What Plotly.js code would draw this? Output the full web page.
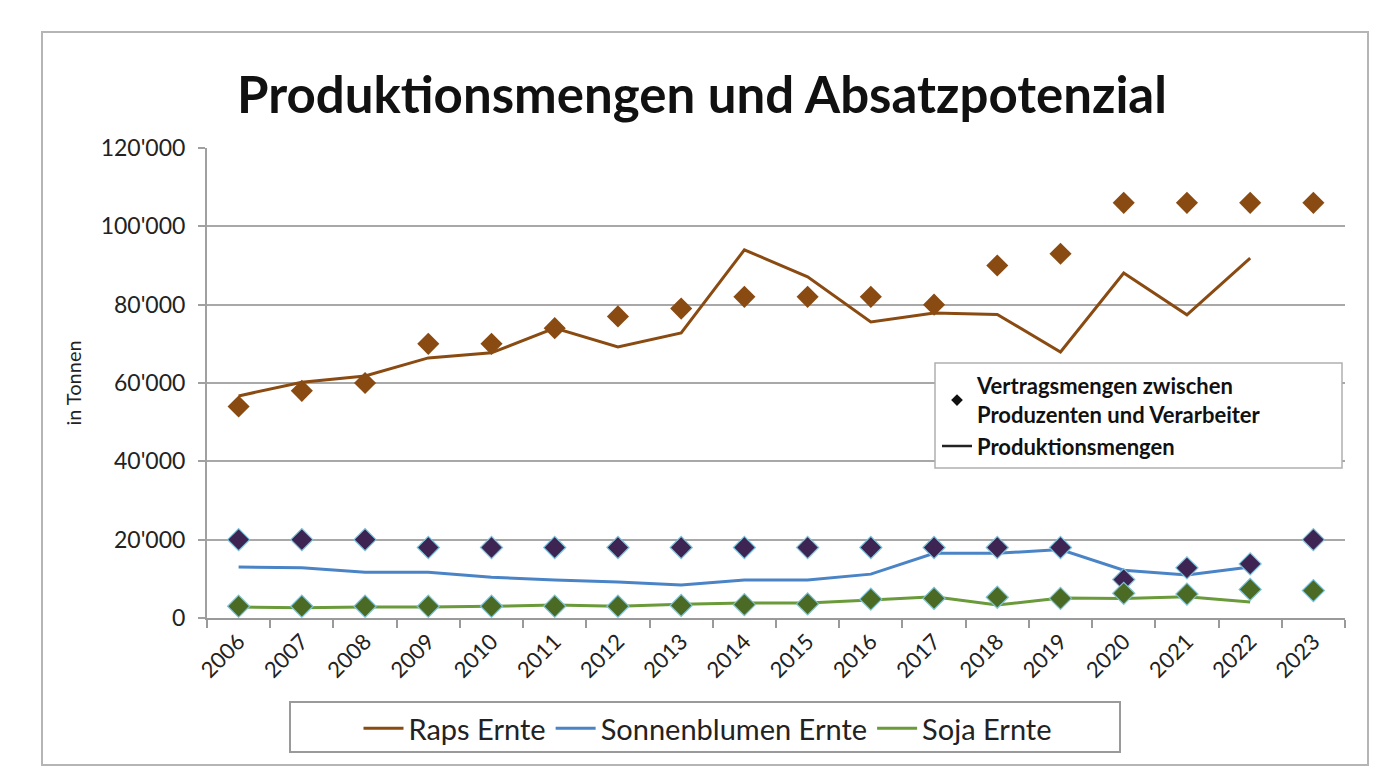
<!DOCTYPE html>
<html>
<head>
<meta charset="utf-8">
<script src="https://cdn.plot.ly/plotly-3.0.1.min.js"></script>
<style>
  html, body { margin: 0; padding: 0; background: #ffffff; }
  #chart { width: 1400px; height: 778px; }
</style>
</head>
<body>
<div id="chart"></div>
<script>
// Categories
const years = ['2006','2007','2008','2009','2010','2011','2012','2013','2014','2015','2016','2017','2018','2019','2020','2021','2022','2023'];

// Production (lines)
const rapsErnte = [56700, 60200, 61800, 66400, 67700, 74000, 69200, 72800, 94000, 87100, 75600, 77900, 77500, 67900, 88100, 77400, 91900, null];
const sonnenErnte = [13000, 12800, 11700, 11700, 10400, 9700, 9200, 8400, 9700, 9700, 11200, 16500, 16500, 17500, 12200, 11000, 13000, null];
const sojaErnte = [2800, 2600, 2800, 2800, 3000, 3300, 3000, 3500, 3800, 3800, 4600, 5400, 3300, 5100, 5000, 5400, 4100, null];

// Contract quantities (diamonds)
const rapsVertrag = [54000, 58000, 60000, 70000, 70000, 74000, 77000, 79000, 82000, 82000, 82000, 80000, 90000, 93000, 106000, 106000, 106000, 106000];
const sonnenVertrag = [20000, 20000, 20000, 18000, 18000, 18000, 18000, 18000, 18000, 18000, 18000, 18000, 18000, 18000, 9800, 12800, 13800, 20000];
const sojaVertrag = [3000, 3000, 3000, 3000, 3000, 3000, 3000, 3200, 3400, 3600, 4800, 5000, 5300, 5000, 6300, 6100, 7300, 7000];

// Tick values for y axis
const yTicks = [0, 20000, 40000, 60000, 80000, 100000, 120000];
const yTickText = ["0", "20'000", "40'000", "60'000", "80'000", "100'000", "120'000"];

const FONT = 'Lato, "Open Sans", "DejaVu Sans", sans-serif';
const brown = '#8a4b12';
const blue = '#4a84c6';
const green = '#6a9a3a';

const traces = [
  {x: years, y: rapsErnte, type: 'scatter', mode: 'lines', name: 'Raps Ernte',
   line: {color: brown, width: 3}, legend: 'legend'},
  {x: years, y: sonnenErnte, type: 'scatter', mode: 'lines', name: 'Sonnenblumen Ernte',
   line: {color: blue, width: 3}, legend: 'legend'},
  {x: years, y: sojaErnte, type: 'scatter', mode: 'lines', name: 'Soja Ernte',
   line: {color: green, width: 3}, legend: 'legend'},
  {x: years, y: rapsVertrag, type: 'scatter', mode: 'markers', showlegend: false,
   marker: {symbol: 'diamond', size: 17, color: brown, line: {width: 0}}},
  {x: years, y: sonnenVertrag, type: 'scatter', mode: 'markers', showlegend: false,
   marker: {symbol: 'diamond', size: 17, color: '#3d2452', line: {width: 1.2, color: '#7cc4dc'}}},
  {x: years, y: sojaVertrag, type: 'scatter', mode: 'markers', showlegend: false,
   marker: {symbol: 'diamond', size: 17, color: '#4b6b24', line: {width: 1.2, color: '#7cc4dc'}}},
  // Key legend (second legend)
  {x: [null], y: [null], type: 'scatter', mode: 'markers',
   name: 'Vertragsmengen zwischen<br>Produzenten und Verarbeiter',
   marker: {symbol: 'diamond', size: 9, color: '#111'}, legend: 'legend2'},
  {x: [null], y: [null], type: 'scatter', mode: 'lines',
   name: 'Produktionsmengen',
   line: {color: '#222', width: 2.5}, legend: 'legend2'}
];

const L = 207, R = 55, T = 148, B = 160;
const pw = 1400 - L - R, ph = 778 - T - B;
function px2x(p) { return (p - L) / pw; }
function py2y(p) { return (778 - B - p) / ph; }

const layout = {
  width: 1400, height: 778,
  margin: {l: L, r: R, t: T, b: B},
  paper_bgcolor: '#ffffff', plot_bgcolor: '#ffffff',
  font: {family: FONT, color: '#222', size: 19},
  title: {
    text: '<b>Produktionsmengen und Absatzpotenzial</b>',
    font: {family: FONT, size: 51, color: '#111'},
    x: 702/1400, xref: 'container', xanchor: 'center',
    y: 1 - 95/778, yref: 'container', yanchor: 'middle'
  },
  xaxis: {
    type: 'category',
    tickangle: -45,
    tickson: 'boundaries',
    ticks: 'outside', ticklen: 8, tickcolor: '#9a9a9a', tickwidth: 2,
    showline: true, linecolor: '#9a9a9a', linewidth: 2,
    showgrid: false,
    tickfont: {family: FONT, size: 22, color: '#222'},
    range: [-0.5, 17.5]
  },
  yaxis: {
    range: [0, 120000],
    tickvals: yTicks, ticktext: yTickText,
    ticks: 'outside', ticklen: 7, tickcolor: '#a0a0a0', tickwidth: 2,
    ticklabelstandoff: 8,
    showline: true, linecolor: '#a0a0a0', linewidth: 2,
    showgrid: true, gridcolor: '#a8a8a8', gridwidth: 2,
    zeroline: false,
    tickfont: {family: FONT, size: 23, color: '#222'},
    title: {text: 'in Tonnen', font: {family: FONT, size: 20, color: '#222'}, standoff: 14}
  },
  legend: {
    orientation: 'h',
    x: px2x(708), xanchor: 'center',
    y: py2y(703), yanchor: 'top',
    borderwidth: 0,
    bgcolor: 'rgba(0,0,0,0)',
    font: {family: FONT, size: 29, color: '#222'},
    itemwidth: 40,
    tracegroupgap: 0
  },
  legend2: {
    x: px2x(937), xanchor: 'left',
    y: py2y(365), yanchor: 'top',
    borderwidth: 0,
    bgcolor: 'rgba(0,0,0,0)',
    font: {family: FONT, size: 22, color: '#111', weight: 'bold'},
    itemwidth: 30
  },
  shapes: [
    {type: 'rect', xref: 'paper', yref: 'paper',
     x0: px2x(42), x1: px2x(1368), y0: py2y(765), y1: py2y(32),
     line: {color: '#b5b5b5', width: 2}, fillcolor: 'rgba(0,0,0,0)', layer: 'below'},
    {type: 'rect', xref: 'paper', yref: 'paper',
     x0: px2x(290), x1: px2x(1120), y0: py2y(752), y1: py2y(702),
     line: {color: '#9a9a9a', width: 2}, fillcolor: '#ffffff', layer: 'below'},
    {type: 'rect', xref: 'paper', yref: 'paper',
     x0: px2x(935), x1: px2x(1342), y0: py2y(468), y1: py2y(363),
     line: {color: '#b0b0b0', width: 1.5}, fillcolor: '#ffffff', layer: 'above'}
  ],
  showlegend: true
};

Plotly.newPlot('chart', traces, layout, {displayModeBar: false, staticPlot: true});
</script>
</body>
</html>
